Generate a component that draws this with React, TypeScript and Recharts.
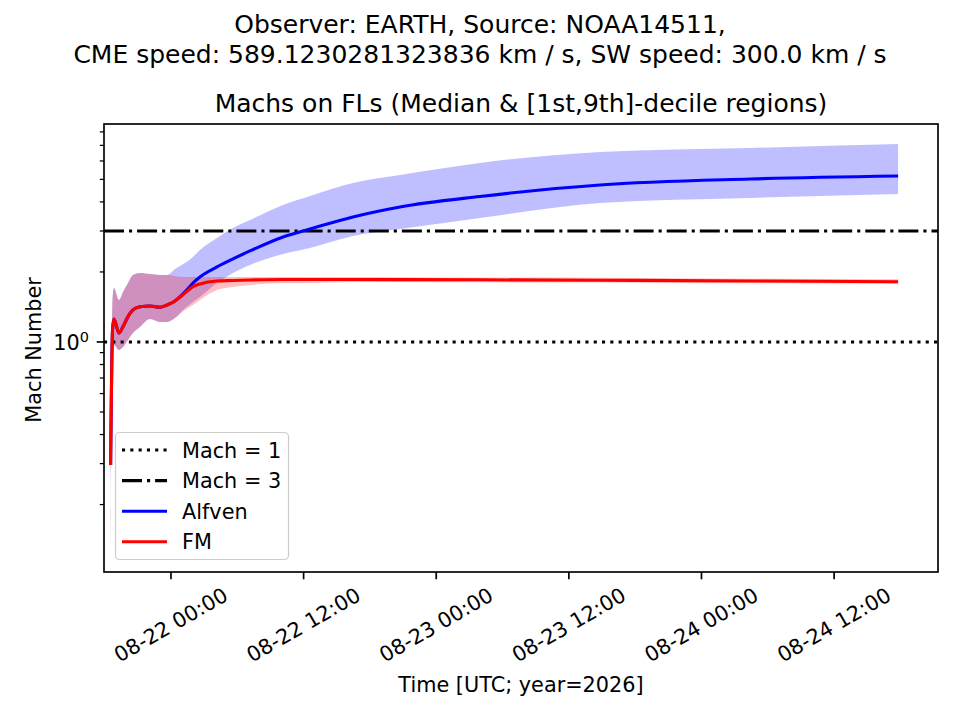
import React from 'react'
import { Area, ComposedChart, Line, ReferenceLine, XAxis, YAxis } from 'recharts'

// hours since 08-22 00:00 UTC
const T = [-5.46, -5.29, -5.16, -4.71, -4.34, -3.89, -3.44, -2.81, -1.9, -1.0, -0.36, 0.36, 1.27, 1.99, 2.62, 4.16, 5.61, 7.15, 10.14, 12.58, 16.47, 20.72, 27.96, 38.82, 52.4, 65.79]

const ALF_MED = [0.296, 1.126, 1.256, 1.093, 1.164, 1.285, 1.373, 1.418, 1.428, 1.41, 1.442, 1.501, 1.641, 1.793, 1.903, 2.101, 2.275, 2.462, 2.828, 3.06, 3.447, 3.805, 4.222, 4.732, 5.02, 5.172]
const ALF_LO = [0.131, 0.837, 0.971, 0.924, 0.952, 1.02, 1.093, 1.16, 1.256, 1.219, 1.219, 1.268, 1.4, 1.486, 1.561, 1.793, 1.98, 2.143, 2.389, 2.536, 2.856, 3.06, 3.413, 3.959, 4.16, 4.328]
const ALF_HI = [0.311, 1.516, 1.707, 1.516, 1.641, 1.793, 1.941, 1.98, 1.96, 1.941, 1.941, 2.06, 2.186, 2.32, 2.487, 2.8, 3.091, 3.346, 3.882, 4.243, 4.827, 5.224, 5.884, 6.559, 6.823, 7.099]

const FM_MED = [0.296, 1.126, 1.256, 1.093, 1.164, 1.285, 1.373, 1.418, 1.428, 1.41, 1.442, 1.501, 1.624, 1.729, 1.776, 1.829, 1.838, 1.847, 1.856, 1.856, 1.856, 1.854, 1.85, 1.842, 1.829, 1.816]
const FM_LO = [0.131, 0.837, 0.971, 0.924, 0.952, 1.02, 1.093, 1.16, 1.256, 1.219, 1.219, 1.268, 1.373, 1.442, 1.516, 1.673, 1.724, 1.758, 1.793, 1.793, 1.811, 1.81, 1.805, 1.8, 1.79, 1.78]
const FM_HI = [0.311, 1.516, 1.707, 1.516, 1.641, 1.793, 1.941, 1.98, 1.96, 1.941, 1.941, 1.922, 1.903, 1.903, 1.903, 1.903, 1.903, 1.903, 1.903, 1.903, 1.903, 1.9, 1.895, 1.89, 1.87, 1.86]

const X_TICKS = [0, 12, 24, 36, 48, 60]
const X_LABELS = ['08-22 00:00', '08-22 12:00', '08-23 00:00', '08-23 12:00', '08-24 00:00', '08-24 12:00']
const Y_TICKS = [0.2, 0.3, 0.4, 0.5, 0.6, 0.7, 0.8, 0.9, 1, 2, 3, 4, 5, 6, 7, 8]

const data = T.map((t, i) => ({
  t,
  alf: ALF_MED[i],
  alfBand: [ALF_LO[i], ALF_HI[i]],
  fm: FM_MED[i],
  fmBand: [FM_LO[i], FM_HI[i]],
}))

const FONT = '"DejaVu Sans", sans-serif'
const FS = 20.8

function XTick(props: any) {
  const { x, y, payload } = props
  const i = X_TICKS.indexOf(payload.value)
  return (
    <g>
      <line x1={x} x2={x} y1={y} y2={y + 7.3} stroke="#000" strokeWidth={1.67} />
      <text
        transform={`translate(${x},${y + 53}) rotate(-30)`}
        textAnchor="middle"
        dominantBaseline="central"
        fontSize={FS}
        fill="#000"
      >
        {X_LABELS[i]}
      </text>
    </g>
  )
}

function YTick(props: any) {
  const { x, y, payload } = props
  const major = payload.value === 1
  return (
    <g>
      <line
        x1={x - (major ? 7.3 : 4.2)}
        x2={x}
        y1={y}
        y2={y}
        stroke="#000"
        strokeWidth={major ? 1.67 : 1.25}
      />
      {major && (
        <text x={x - 15} y={y + 8.5} textAnchor="end" fontSize={FS} fill="#000">
          10
          <tspan dy={-8} fontSize={14.5}>
            0
          </tspan>
        </text>
      )}
    </g>
  )
}

const LEGEND = [
  { label: 'Mach = 1', color: '#000', dash: '3.1 5.2' },
  { label: 'Mach = 3', color: '#000', dash: '20 5 3.1 5' },
  { label: 'Alfven', color: '#0000ff', dash: undefined },
  { label: 'FM', color: '#ff0000', dash: undefined },
]

export default function App() {
  return (
    <div style={{ position: 'relative', width: 960, height: 720, fontFamily: FONT, background: '#fff' }}>
      <style>{'body{margin:0}'}</style>
      <ComposedChart width={960} height={720} data={data} margin={{ top: 124, right: 22, bottom: 0, left: 0 }}>
        <XAxis
          dataKey="t"
          type="number"
          domain={[-6.06, 69.4]}
          allowDataOverflow
          ticks={X_TICKS}
          interval={0}
          height={148}
          tickSize={0}
          tickMargin={0}
          axisLine={false}
          tickLine={false}
          tick={(p: any) => <XTick {...p} />}
        />
        <YAxis
          type="number"
          scale="log"
          domain={[0.1026, 8.65]}
          allowDataOverflow
          ticks={Y_TICKS}
          interval={0}
          width={104}
          tickSize={0}
          tickMargin={0}
          axisLine={false}
          tickLine={false}
          tick={(p: any) => <YTick {...p} />}
        />
        <ReferenceLine y={1} stroke="#000" strokeWidth={3.1} strokeDasharray="3.1 5.2" />
        <ReferenceLine y={3} stroke="#000" strokeWidth={3.1} strokeDasharray="20 5 3.1 5" />
        <Area
          dataKey="alfBand"
          type="monotoneX"
          stroke="none"
          fill="#0000ff"
          fillOpacity={0.25}
          isAnimationActive={false}
        />
        <Area
          dataKey="fmBand"
          type="monotoneX"
          stroke="none"
          fill="#ff0000"
          fillOpacity={0.25}
          isAnimationActive={false}
        />
        <Line dataKey="alf" type="monotoneX" stroke="#0000ff" strokeWidth={3.1} dot={false} isAnimationActive={false} />
        <Line dataKey="fm" type="monotoneX" stroke="#ff0000" strokeWidth={3.1} dot={false} isAnimationActive={false} />
      </ComposedChart>
      <svg
        width={960}
        height={720}
        style={{ position: 'absolute', left: 0, top: 0, pointerEvents: 'none', fontFamily: FONT }}
      >
        <rect x={104} y={124} width={834} height={448} fill="none" stroke="#000" strokeWidth={1.67} />
        <text x={480} y={33} textAnchor="middle" fontSize={25}>
          Observer: EARTH, Source: NOAA14511,
        </text>
        <text x={480} y={63} textAnchor="middle" fontSize={25}>
          CME speed: 589.1230281323836 km / s, SW speed: 300.0 km / s
        </text>
        <text x={521} y={112} textAnchor="middle" fontSize={25}>
          Machs on FLs (Median &amp; [1st,9th]-decile regions)
        </text>
        <text x={521} y={692} textAnchor="middle" fontSize={FS}>
          Time [UTC; year=2026]
        </text>
        <text transform="translate(41,350) rotate(-90)" textAnchor="middle" fontSize={FS}>
          Mach Number
        </text>
        <g>
          <rect x={115.5} y={432.5} width={173} height={127} rx={4} fill="#fff" fillOpacity={0.8} stroke="#cccccc" strokeWidth={1.2} />
          {LEGEND.map((e, i) => {
            const cy = 450 + i * 30.6
            return (
              <g key={e.label}>
                <line x1={122} x2={167} y1={cy} y2={cy} stroke={e.color} strokeWidth={3.1} strokeDasharray={e.dash} />
                <text x={182} y={cy + 7.5} fontSize={FS}>
                  {e.label}
                </text>
              </g>
            )
          })}
        </g>
      </svg>
    </div>
  )
}
